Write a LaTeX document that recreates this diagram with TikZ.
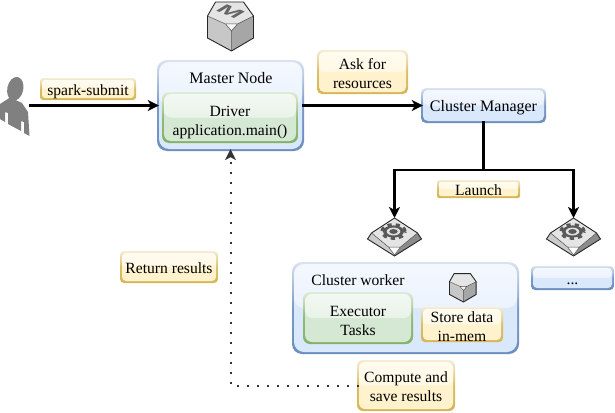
\documentclass[tikz,border=0pt]{standalone}
\usepackage{fontspec}
\setmainfont{Liberation Serif}
\newfontfamily\keyfont{Liberation Sans}
\usetikzlibrary{arrows.meta}
\definecolor{blueF}{HTML}{DAE8FC}\definecolor{blueS}{HTML}{6C8EBF}
\definecolor{greenF}{HTML}{D5E8D4}\definecolor{greenS}{HTML}{82B366}
\definecolor{yellowF}{HTML}{FFF2CC}\definecolor{yellowS}{HTML}{D6B656}
\tikzset{
  lbl/.style={font=\fontsize{15.6}{19}\selectfont,align=center,inner sep=0pt,text=black},
  flow/.style={line width=2.2pt,draw=black,-{Stealth[length=11pt,width=11pt,inset=3pt]}},
  plain/.style={line width=2.2pt,draw=black},
  retline/.style={line width=2pt,draw=black!80,dash pattern=on 2pt off 8pt,-{Stealth[length=11pt,width=11pt,inset=3pt,line width=0pt]}},
  keyedge/.style={draw=black!85,line width=.9pt,line join=round},
}
% [text offset], name, x1, y1, x2, y2, colour prefix, radius, text
\newcommand\gbox[9][0]{%
  \shade[rounded corners=#8pt,top color=#7S!25!white,bottom color=#7S,middle color=#7S!90!white]
     (#3,#4) rectangle (#5,#6);
  \node[rounded corners=#8pt,fill=#7F,inner sep=0pt,
        minimum width={(#5-#3-4)*1pt},minimum height={(#6-#4-4)*1pt},
        path picture={\shade[top color=#7F!30!white,bottom color=#7F!76!white]
           (path picture bounding box.north west) rectangle (path picture bounding box.east);}]
     (#2) at ({(#3+#5)/2},{(#4+#6)/2}) {};
  \node[lbl] (#2text) at ({(#3+#5)/2},{(#4+#6)/2+#1+2.2}) {\strut #9};
}
\newcommand\keybody{%
  \fill[black!22] (0,15) -- (18,23) -- (24,30) -- (24,50) -- (0,37) -- cycle;
  \fill[black!35] (46,15) -- (30,23) -- (24,30) -- (24,50) -- (46,37) -- cycle;
  \fill[black!10] (0,15) -- (8,1) -- (36,1) -- (46,15) -- (30,23) -- (18,23) -- cycle;
  \fill[black!3] (18,23) -- (30,23) -- (24,30) -- cycle;
  \draw[draw=black!70,line width=.5pt] (0,15) -- (18,23) -- (30,23) -- (46,15) (18,23) -- (24,30) -- (30,23) (24,30) -- (24,50);
  \draw[keyedge] (8,1) -- (36,1) -- (46,15) -- (46,37) -- (24,50) -- (0,37) -- (0,15) -- cycle;
}
\newcommand\gearicon[1]{%
  \begin{scope}[shift={(#1,217)}]
    \fill[black!20] (-23,16) -- (-6,30) -- (0,39) -- (-27,22) -- cycle;
    \fill[black!45] (23,16) -- (6,30) -- (0,39) -- (27,22) -- cycle;
    \fill[black!10] (0,1) -- (23,16) -- (6,30) -- (-6,30) -- (-23,16) -- cycle;
    \fill[white] (-6,30) -- (6,30) -- (0,38) -- cycle;
    \draw[black!70,line width=.5pt] (-23,16) -- (-6,30) -- (6,30) -- (23,16) (-6,30) -- (0,38) -- (6,30);
    \draw[keyedge] (0,1) -- (23,16) -- (27,22) -- (0,39) -- (-27,22) -- (-23,16) -- cycle;
    \begin{scope}[shift={(-1,14.5)},yscale=.58]
      \draw[black!65,line width=3.5pt,dash pattern=on 4.2pt off 3.9pt] (0,0) circle[radius=11.5pt];
      \fill[black!65] (0,0) circle[radius=10.5pt];
      \fill[black!12] (0,0) circle[radius=6.8pt];
      \fill[black!65] (0,0) circle[radius=4.2pt];
    \end{scope}
  \end{scope}
}
\begin{document}
\begin{tikzpicture}[x=1pt,y=-1pt]
\useasboundingbox (0,0) rectangle (615,412);
% person
\coordinate (user) at (29,105.5);
\fill[black!50] (15.3,88.8) ellipse[x radius=8pt,y radius=12pt,rotate=-12];
\fill[black!50] (0,104) -- (10,97.5) -- (22,103) -- (28,112) -- (29.5,136) -- (24,133) -- (24,122) -- (21,121) -- (21,131) -- (8,124) -- (8,113) -- (5,112) -- (5,122) -- (0,119) -- cycle;
% master icon
\begin{scope}[shift={(207.5,1)}]
  \keybody
\end{scope}
\begin{scope}[shift={(230.5,11.5)},transform shape,cm={0.98,-0.4,0.6,0.36,(0,0)}]
  \node[inner sep=0pt,text=black!60,font=\keyfont\bfseries\fontsize{26}{26}\selectfont] (mglyph) at (0,0) {M};
\end{scope}
% master
\gbox{master}{157}{60}{304}{151}{blue}{10}{}
\gbox[2.5]{driver}{162}{92}{298}{143}{green}{7}{Driver\\\strut application.main()}
\node[lbl,font=\fontsize{16}{19}\selectfont] (mastertitle) at (231,78) {Master Node};
% labels
\gbox[0.5]{spark}{40}{78}{136}{100}{yellow}{3}{spark-submit}
\gbox[1]{ask}{317}{50}{408}{94}{yellow}{5}{Ask for\\\strut resources}
\gbox[0]{cm}{421}{88}{546}{123}{blue}{5}{\fontsize{16}{19}\selectfont Cluster Manager}
\gbox[0]{launch}{437}{180}{520}{198}{yellow}{2}{Launch}
\gbox[0]{retbox}{120}{251}{218}{283}{yellow}{4}{Return results}
% worker
\gbox{worker}{292}{262}{519}{354}{blue}{10}{}
\node[lbl] (workertitle) at (358,280) {Cluster worker};
\gbox[2]{executor}{303}{292}{413}{344}{green}{7}{Executor\\\strut Tasks}
\gbox[1]{store}{421}{307}{503}{342}{yellow}{4}{Store data\\\strut in-mem}
\begin{scope}[shift={(449.5,273)},scale=.58]
  \fill[black!22] (0,15) -- (18,23) -- (24,30) -- (24,50) -- (0,37) -- cycle;
  \fill[black!35] (46,15) -- (30,23) -- (24,30) -- (24,50) -- (46,37) -- cycle;
  \fill[black!10] (0,15) -- (8,1) -- (36,1) -- (46,15) -- (30,23) -- (18,23) -- cycle;
  \fill[black!3] (18,23) -- (30,23) -- (24,30) -- cycle;
  \draw[draw=black!70,line width=.4pt] (0,15) -- (18,23) -- (30,23) -- (46,15) (18,23) -- (24,30) -- (30,23) (24,30) -- (24,50);
  \draw[keyedge] (8,1) -- (36,1) -- (46,15) -- (46,37) -- (24,50) -- (0,37) -- (0,15) -- cycle;
\end{scope}
\gbox[0]{more}{531}{266}{614}{290}{blue}{4}{...}
\gbox[0.5]{compute}{357}{360}{455}{411}{yellow}{6}{Compute and\\\strut save results}
% gears
\gearicon{394.5}
\gearicon{573.5}
\coordinate (gearA) at (394.5,218);
\coordinate (gearB) at (573.5,218);
\coordinate (fork) at (483.5,170);
% connectors
\draw[flow] (user) -- (master);
\draw[flow] (master) -- (cm);
\draw[plain] (cm.south) -- (fork);
\draw[flow] (fork) -| (gearA);
\draw[flow] (fork) -| (gearB);
\draw[retline] (compute.west) -| (master.south);
\end{tikzpicture}
\end{document}
